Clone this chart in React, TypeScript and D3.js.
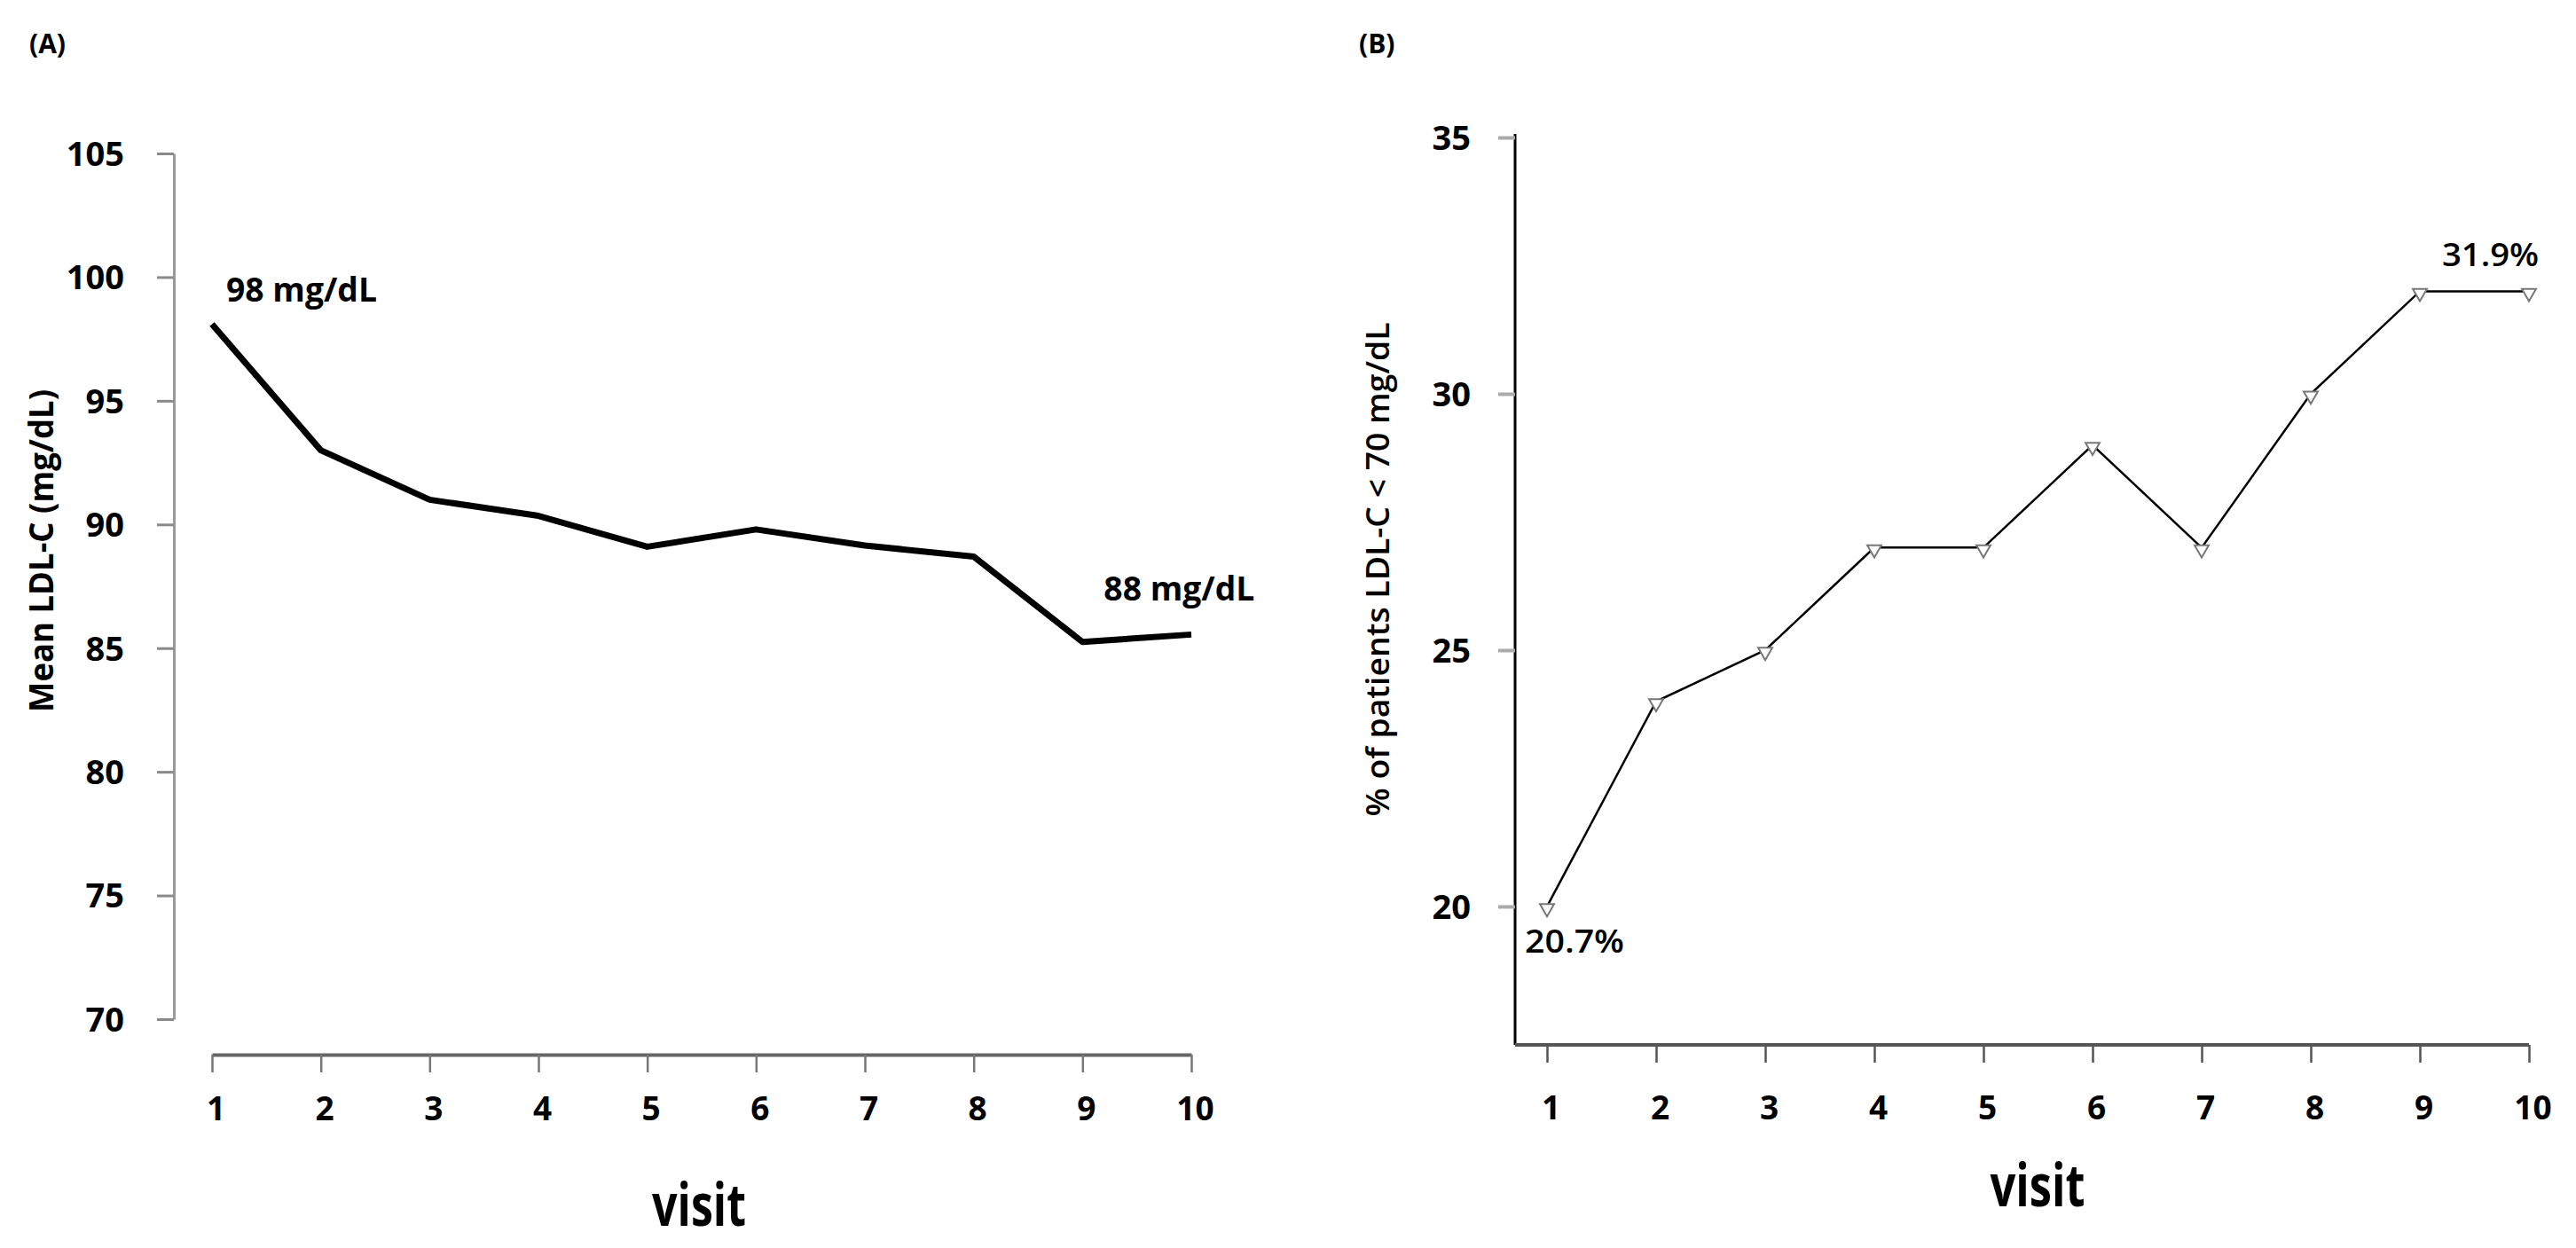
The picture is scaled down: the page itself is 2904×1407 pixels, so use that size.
import { useEffect, useRef } from "react";
import * as d3 from "d3";

const visits = [1, 2, 3, 4, 5, 6, 7, 8, 9, 10];
const meanLdl = [98.1, 93.0, 91.0, 90.35, 89.1, 89.8, 89.15, 88.7, 85.25, 85.55];
const pctBelow70 = [20, 24, 25, 27, 27, 29, 27, 30, 32, 32];
const ldlTicks = [70, 75, 80, 85, 90, 95, 100, 105];
const pctTicks = [20, 25, 30, 35];
const ldlNotes = ["98 mg/dL", "88 mg/dL"];
const pctNotes = ["20.7%", "31.9%"];

const FONT = "'Open Sans', 'Noto Sans', sans-serif";

export default function App() {
  const svgRef = useRef<SVGSVGElement>(null);

  useEffect(() => {
    document.body.style.margin = "0";
    if (!svgRef.current) return;
    const svg = d3.select(svgRef.current);
    svg.selectAll("*").remove();
    svg.attr("font-family", FONT);

    // ---------- Panel A ----------
    const xA = d3.scaleLinear().domain([1, 10]).range([239, 1343]);
    const yA = d3.scaleLinear().domain([70, 105]).range([1149, 173]);

    svg.append("text").attr("x", 33).attr("y", 60)
      .attr("font-size", 30).attr("font-weight", 700).text("(A)");

    const yAxisA = svg.append("g").attr("transform", "translate(196,0)")
      .call(d3.axisLeft(yA).tickValues(ldlTicks).tickSize(19).tickSizeOuter(0).tickFormat(d3.format("d")));
    yAxisA.select(".domain").attr("stroke", "#9a9a9a").attr("stroke-width", 3);
    yAxisA.selectAll(".tick line").attr("stroke", "#8a8a8a").attr("stroke-width", 3);
    yAxisA.selectAll(".tick text").attr("x", -56).attr("dy", "0.35em")
      .attr("font-size", 38).attr("font-weight", 700).attr("fill", "#000").attr("font-family", FONT);

    const xAxisA = svg.append("g").attr("transform", "translate(0,1189)")
      .call(d3.axisBottom(xA).tickValues(visits).tickSize(20).tickSizeOuter(0).tickFormat(d3.format("d")));
    xAxisA.select(".domain").attr("stroke", "#666").attr("stroke-width", 4);
    xAxisA.selectAll(".tick line").attr("stroke", "#777").attr("stroke-width", 2.5);
    xAxisA.selectAll(".tick text").attr("y", 61).attr("dx", 4).attr("dy", "0.35em")
      .attr("font-size", 37).attr("font-weight", 700).attr("fill", "#000").attr("font-family", FONT);

    const lineA = d3.line<number>().x((_, i) => xA(visits[i])).y((d) => yA(d));
    svg.append("path").datum(meanLdl).attr("d", lineA)
      .attr("fill", "none").attr("stroke", "#000").attr("stroke-width", 7).attr("stroke-linejoin", "round");

    svg.append("text").attr("x", xA(1) + 16).attr("y", yA(meanLdl[0]) - 25)
      .attr("font-size", 37).attr("font-weight", 700).attr("textLength", 170)
      .attr("lengthAdjust", "spacingAndGlyphs").text(ldlNotes[0]);
    svg.append("text").attr("x", xA(9) + 24).attr("y", yA(meanLdl[8]) - 47)
      .attr("font-size", 37).attr("font-weight", 700).attr("textLength", 170)
      .attr("lengthAdjust", "spacingAndGlyphs").text(ldlNotes[1]);

    svg.append("text").attr("transform", "translate(47,621) rotate(-90)")
      .attr("text-anchor", "middle").attr("dy", "0.35em")
      .attr("font-size", 37).attr("font-weight", 700).attr("textLength", 364)
      .attr("lengthAdjust", "spacingAndGlyphs").text("Mean LDL-C (mg/dL)");

    svg.append("text").attr("x", 788).attr("y", 1382).attr("text-anchor", "middle")
      .attr("font-size", 66).attr("font-weight", 700).attr("textLength", 106)
      .attr("lengthAdjust", "spacingAndGlyphs").text("visit");

    // ---------- Panel B ----------
    const xB = d3.scaleLinear().domain([1, 10]).range([1744, 2851]);
    const yB = d3.scaleLinear().domain([17.3, 35]).range([1178, 155]);

    svg.append("text").attr("x", 1532).attr("y", 60)
      .attr("font-size", 30).attr("font-weight", 700).text("(B)");

    const yAxisB = svg.append("g").attr("transform", "translate(1708,0)")
      .call(d3.axisLeft(yB).tickValues(pctTicks).tickSize(19).tickSizeOuter(0).tickFormat(d3.format("d")));
    yAxisB.select(".domain").attr("stroke", "#000").attr("stroke-width", 3)
      .attr("d", "M0,151V1178");
    yAxisB.selectAll(".tick line").attr("stroke", "#aaa").attr("stroke-width", 4);
    yAxisB.selectAll(".tick text").attr("x", -50).attr("dy", "0.35em")
      .attr("font-size", 38).attr("font-weight", 700).attr("fill", "#000").attr("font-family", FONT);

    const xAxisB = svg.append("g").attr("transform", "translate(0,1178)")
      .call(d3.axisBottom(xB).tickValues(visits).tickSize(20).tickSizeOuter(0).tickFormat(d3.format("d")));
    xAxisB.select(".domain").attr("stroke", "#555").attr("stroke-width", 4)
      .attr("d", `M1708,0H${xB(10)}`);
    xAxisB.selectAll(".tick line").attr("stroke", "#555").attr("stroke-width", 2.5);
    xAxisB.selectAll(".tick text").attr("y", 71).attr("dx", 4).attr("dy", "0.35em")
      .attr("font-size", 37).attr("font-weight", 700).attr("fill", "#000").attr("font-family", FONT);

    const lineB = d3.line<number>().x((_, i) => xB(visits[i])).y((d) => yB(d));
    svg.append("path").datum(pctBelow70).attr("d", lineB)
      .attr("fill", "none").attr("stroke", "#000").attr("stroke-width", 2.5);

    const tri = d3.symbol().type(d3.symbolTriangle).size(110);
    svg.append("g").selectAll("path").data(pctBelow70).join("path")
      .attr("d", tri)
      .attr("transform", (d, i) => `translate(${xB(visits[i])},${yB(d) + 2}) rotate(180)`)
      .attr("fill", "#fff").attr("stroke", "#777").attr("stroke-width", 2);

    svg.append("text").attr("x", xB(1) + 31).attr("y", yB(pctBelow70[0]) + 52)
      .attr("text-anchor", "middle").attr("font-size", 36).attr("font-weight", 600)
      .attr("textLength", 112).attr("lengthAdjust", "spacingAndGlyphs").text(pctNotes[0]);
    svg.append("text").attr("x", xB(10) + 11).attr("y", yB(pctBelow70[9]) - 28)
      .attr("text-anchor", "end").attr("font-size", 36).attr("font-weight", 600)
      .attr("textLength", 109).attr("lengthAdjust", "spacingAndGlyphs").text(pctNotes[1]);

    svg.append("text").attr("transform", "translate(1553,642) rotate(-90)")
      .attr("text-anchor", "middle").attr("dy", "0.35em")
      .attr("font-size", 36).attr("font-weight", 600).attr("textLength", 557)
      .attr("lengthAdjust", "spacingAndGlyphs").text("% of patients LDL-C < 70 mg/dL");

    svg.append("text").attr("x", 2297).attr("y", 1360).attr("text-anchor", "middle")
      .attr("font-size", 66).attr("font-weight", 700).attr("textLength", 107)
      .attr("lengthAdjust", "spacingAndGlyphs").text("visit");
  }, []);

  return (
    <svg ref={svgRef} width={2904} height={1407} viewBox="0 0 2904 1407"
      style={{ display: "block", background: "#fff" }} />
  );
}
